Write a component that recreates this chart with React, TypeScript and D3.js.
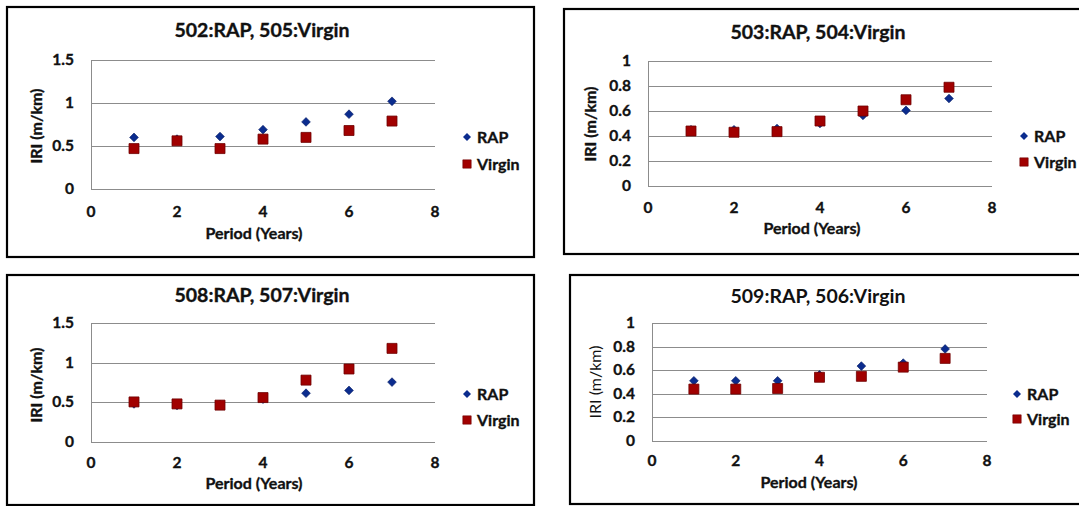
import React from 'react'
import * as d3 from 'd3'

// values
const years = [1, 2, 3, 4, 5, 6, 7]
const xTicks = [0, 2, 4, 6, 8]
const yTicksWide = [0, 0.5, 1, 1.5]
const yTicksNarrow = [0, 0.2, 0.4, 0.6, 0.8, 1]

const titles = ['502:RAP, 505:Virgin', '503:RAP, 504:Virgin', '508:RAP, 507:Virgin', '509:RAP, 506:Virgin']

const rap502 = [0.6, 0.58, 0.61, 0.69, 0.78, 0.87, 1.02]
const virgin505 = [0.47, 0.56, 0.47, 0.58, 0.6, 0.68, 0.79]

const rap503 = [0.45, 0.45, 0.46, 0.5, 0.565, 0.605, 0.7]
const virgin504 = [0.44, 0.43, 0.435, 0.52, 0.6, 0.69, 0.79]

const rap508 = [0.48, 0.46, 0.47, 0.54, 0.615, 0.65, 0.755]
const virgin507 = [0.505, 0.48, 0.465, 0.56, 0.78, 0.92, 1.18]

const rap509 = [0.51, 0.51, 0.51, 0.56, 0.635, 0.66, 0.78]
const virgin506 = [0.44, 0.44, 0.445, 0.54, 0.548, 0.626, 0.7]

const font = 'Lato, "Open Sans", sans-serif'
const blue = '#0b2c8e'
const red = '#a10000'
const grid = '#8c8c8c'
const ink = '#111'

const square = d3.symbol(d3.symbolSquare)

type Layout = {
  box: [number, number, number, number]
  plot: [number, number, number, number] // left, top, right, bottom
  titleX: number
  titleY: number
  xLabY: number
  xTitleX: number
  xTitleY: number
  yTitleX: number
  yTitleY: number
  legX: number
  legY: [number, number]
  titleHeavy: boolean
  yTitleHeavy: boolean
}

// a thin stroke thickens Lato bold towards the heavier Calibri look
const heavy = { fontWeight: 700, stroke: ink, strokeWidth: 0.35 }

const Panel = ({ lay, title, rap, virgin, yTicks }: { lay: Layout; title: string; rap: number[]; virgin: number[]; yTicks: number[] }) => {
  const [l, t, r, b] = lay.plot
  const x = d3.scaleLinear().domain([0, 8]).range([l, r])
  const y = d3.scaleLinear().domain([0, d3.max(yTicks) as number]).range([b, t])
  const [bx, by, bw, bh] = lay.box
  return (
    <g>
      <rect x={bx} y={by} width={bw} height={bh} fill="#fff" stroke="#000" strokeWidth={2.2} />
      <text x={lay.titleX} y={lay.titleY} textAnchor="middle" fontFamily={font} fontSize={19.5} fill={ink}
        {...(lay.titleHeavy ? heavy : { fontWeight: 700 })}>{title}</text>
      {yTicks.map(v => (
        <line key={'g' + v} x1={l} x2={r} y1={Math.round(y(v)) + 0.5} y2={Math.round(y(v)) + 0.5} stroke={grid} strokeWidth={1} />
      ))}
      <line x1={l + 0.5} x2={l + 0.5} y1={t} y2={b} stroke={grid} strokeWidth={1} />
      {yTicks.map(v => (
        <text key={'y' + v} x={l - 17} y={y(v) + 5} textAnchor="end" fontFamily={font} fontSize={15.5} fill={ink} {...heavy}>{v}</text>
      ))}
      {xTicks.map(v => (
        <text key={'x' + v} x={x(v)} y={lay.xLabY} textAnchor="middle" fontFamily={font} fontSize={15.5} fill={ink} {...heavy}>{v}</text>
      ))}
      <text x={lay.xTitleX} y={lay.xTitleY} textAnchor="middle" fontFamily={font} fontSize={16} fill={ink} {...heavy}>Period (Years)</text>
      <text transform={`translate(${lay.yTitleX},${lay.yTitleY}) rotate(-90)`} textAnchor="middle" dy="0.35em" fontFamily={font} fontSize={16} fill={ink}
        {...(lay.yTitleHeavy ? heavy : { fontWeight: 400 })}>IRI (m/km)</text>
      {years.map((yr, i) => (
        <path key={'r' + i} d={square.size(38)() as string} transform={`translate(${x(yr)},${y(rap[i])}) rotate(45)`} fill={blue} stroke="#061d66" strokeWidth={0.6} />
      ))}
      {years.map((yr, i) => (
        <path key={'v' + i} d={square.size(100)() as string} transform={`translate(${x(yr)},${y(virgin[i])})`} fill={red} stroke="#6e0000" strokeWidth={0.8} />
      ))}
      <path d={square.size(32)() as string} transform={`translate(${lay.legX},${lay.legY[0]}) rotate(45)`} fill={blue} />
      <text x={lay.legX + 10} y={lay.legY[0] + 5.5} fontFamily={font} fontSize={16} fill={ink} {...heavy}>RAP</text>
      <path d={square.size(70)() as string} transform={`translate(${lay.legX},${lay.legY[1]})`} fill={red} stroke="#6e0000" strokeWidth={0.6} />
      <text x={lay.legX + 10} y={lay.legY[1] + 5.5} fontFamily={font} fontSize={16} fill={ink} {...heavy}>Virgin</text>
    </g>
  )
}

const layouts: Layout[] = [
  { box: [7, 7, 527, 250], plot: [91, 60, 435, 189], titleX: 262, titleY: 37, xLabY: 217, xTitleX: 254, xTitleY: 239, yTitleX: 36, yTitleY: 126, legX: 467, legY: [137, 164], titleHeavy: true, yTitleHeavy: true },
  { box: [564, 9, 530, 245], plot: [648, 61, 992, 186], titleX: 818, titleY: 39, xLabY: 213, xTitleX: 812, xTitleY: 234, yTitleX: 590, yTitleY: 124, legX: 1024, legY: [136, 162], titleHeavy: true, yTitleHeavy: true },
  { box: [7, 275, 527, 230], plot: [91, 323, 435, 442], titleX: 262, titleY: 302, xLabY: 468, xTitleX: 254, xTitleY: 489, yTitleX: 36, yTitleY: 385, legX: 467, legY: [394, 420], titleHeavy: true, yTitleHeavy: true },
  { box: [570, 275, 530, 229], plot: [652, 323, 987, 441], titleX: 818, titleY: 303, xLabY: 466, xTitleX: 809, xTitleY: 488, yTitleX: 595, yTitleY: 382, legX: 1017, legY: [394, 419], titleHeavy: false, yTitleHeavy: false },
]

const App = () => {
  const width = 1079
  const height = 506
  return (
    <svg width={width} height={height} style={{ position: 'absolute', left: 0, top: 0 }}>
      <rect width={width} height={height} fill="#fff" />
      <Panel lay={layouts[0]} title={titles[0]} rap={rap502} virgin={virgin505} yTicks={yTicksWide} />
      <Panel lay={layouts[1]} title={titles[1]} rap={rap503} virgin={virgin504} yTicks={yTicksNarrow} />
      <Panel lay={layouts[2]} title={titles[2]} rap={rap508} virgin={virgin507} yTicks={yTicksWide} />
      <Panel lay={layouts[3]} title={titles[3]} rap={rap509} virgin={virgin506} yTicks={yTicksNarrow} />
    </svg>
  )
}

export default App
